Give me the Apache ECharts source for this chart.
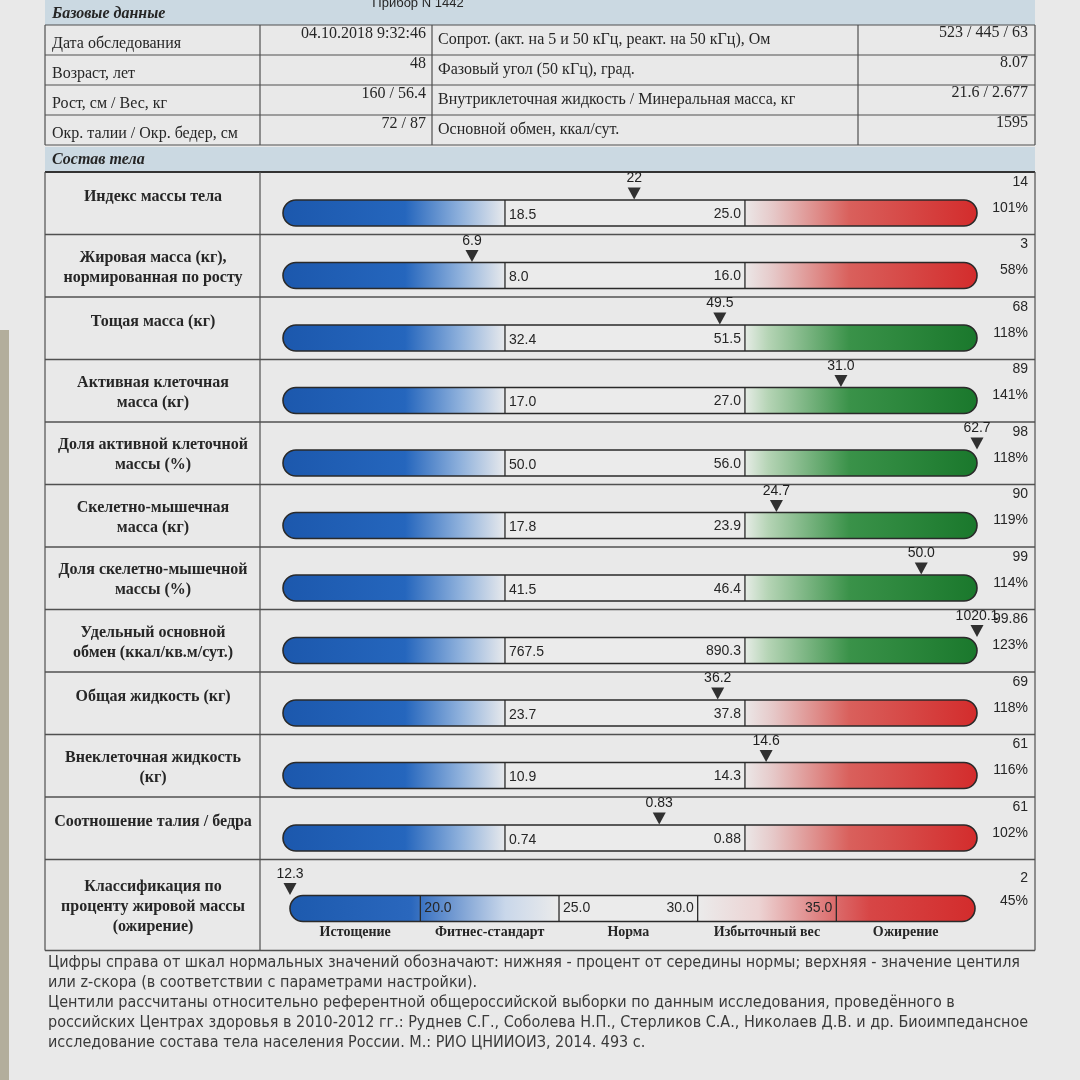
<!DOCTYPE html>
<html><head><meta charset="utf-8">
<script src="https://cdn.jsdelivr.net/npm/echarts@6.0.0/dist/echarts.min.js"></script>
<style>html,body{margin:0;padding:0;background:#e9e9e9}#c{width:1080px;height:1080px}</style>
</head><body><div id="c"></div><script>
// ---------- DATA ----------
const deviceText = 'Прибор N 1442';
const sectionBase = 'Базовые данные';
const sectionComp = 'Состав тела';
const baseLabelsLeft = ['Дата обследования', 'Возраст, лет', 'Рост, см / Вес, кг', 'Окр. талии / Окр. бедер, см'];
const baseValuesLeft = ['04.10.2018 9:32:46', '48', '160 / 56.4', '72 / 87'];
const baseLabelsRight = ['Сопрот. (акт. на 5 и 50 кГц, реакт. на 50 кГц), Ом', 'Фазовый угол (50 кГц), град.', 'Внутриклеточная жидкость / Минеральная масса, кг', 'Основной обмен, ккал/сут.'];
const baseValuesRight = ['523 / 445 / 63', '8.07', '21.6 / 2.677', '1595'];

const indicators = [
  'Индекс массы тела',
  'Жировая масса (кг),\nнормированная по росту',
  'Тощая масса (кг)',
  'Активная клеточная\nмасса (кг)',
  'Доля активной клеточной\nмассы (%)',
  'Скелетно-мышечная\nмасса (кг)',
  'Доля скелетно-мышечной\nмассы (%)',
  'Удельный основной\nобмен (ккал/кв.м/сут.)',
  'Общая жидкость (кг)',
  'Внеклеточная жидкость\n(кг)',
  'Соотношение талия / бедра',
  'Классификация по\nпроценту жировой массы\n(ожирение)'
];
const normLow  = [18.5, 8.0, 32.4, 17.0, 50.0, 17.8, 41.5, 767.5, 23.7, 10.9, 0.74];
const normHigh = [25.0, 16.0, 51.5, 27.0, 56.0, 23.9, 46.4, 890.3, 37.8, 14.3, 0.88];
const normDecimals = [1, 1, 1, 1, 1, 1, 1, 1, 1, 1, 2];
const measured = [22, 6.9, 49.5, 31.0, 62.7, 24.7, 50.0, 1020.1, 36.2, 14.6, 0.83, 12.3];
const measuredDecimals = [0, 1, 1, 1, 1, 1, 1, 1, 1, 1, 2, 1];
const centile = ['14', '3', '68', '89', '98', '90', '99', '99.86', '69', '61', '61', '2'];
const pctOfNorm = [101, 58, 118, 141, 118, 119, 114, 123, 118, 116, 102, 45];
const excessKind = ['red', 'red', 'green', 'green', 'green', 'green', 'green', 'green', 'red', 'red', 'red'];
const fatBounds = [20.0, 25.0, 30.0, 35.0];
const fatClasses = ['Истощение', 'Фитнес-стандарт', 'Норма', 'Избыточный вес', 'Ожирение'];
const footnote = [
  'Цифры справа от шкал нормальных значений обозначают: нижняя - процент от середины нормы; верхняя - значение центиля',
  'или z-скора (в соответствии с параметрами настройки).',
  'Центили рассчитаны относительно референтной общероссийской выборки по данным исследования, проведённого в',
  'российских Центрах здоровья в 2010-2012 гг.: Руднев С.Г., Соболева Н.П., Стерликов С.А., Николаев Д.В. и др. Биоимпедансное',
  'исследование состава тела населения России. М.: РИО ЦНИИОИЗ, 2014. 493 с.'
];

// ---------- STYLE / LAYOUT ----------
const SERIF = "'Liberation Serif','Times New Roman',serif";
const SANS = "'Liberation Sans',Arial,sans-serif";
const NARROW = "'Liberation Sans Narrow','DejaVu Sans Condensed',sans-serif";
const INK = '#262626';
const LINE = '#505050';
const BAND = '#cbd9e2';
const L = 45, R = 1035, C1 = 260;
const ROW0 = 172, RH = 62.5, LAST_H = 91;
const rowTop = i => ROW0 + i * RH;

const gradH = stops => new echarts.graphic.LinearGradient(0, 0, 1, 0, stops.map(s => ({offset: s[0], color: s[1]})));
const BLUE = [[0, '#1c58ad'], [0.55, '#2566bd'], [0.8, '#8fb1dc'], [1, '#e7e9ec']];
const RED = [[0, '#ebe7e7'], [0.12, '#e6c9c9'], [0.45, '#d9605c'], [1, '#d32c2c']];
const GREEN = [[0, '#e6ece6'], [0.1, '#b5d4b5'], [0.45, '#3a9249'], [1, '#1a782c']];
const BLUE_LAST = [[0, '#1d5aae'], [0.45, '#2a67bd'], [0.8, '#c9d7ea'], [1, '#ebebeb']];
const RED_LAST = [[0, '#ebebeb'], [0.22, '#ecd3d3'], [0.5, '#db6a6a'], [0.62, '#d74646'], [1, '#d32c2c']];

function T(x, y, text, font, align, extra) {
  return {type: 'text', silent: true, style: Object.assign({
    x, y, text, font, fill: INK, align: align || 'left', verticalAlign: 'middle',
    textAlign: align || 'left', textVerticalAlign: 'middle'
  }, extra || {})};
}
function Ln(x1, y1, x2, y2, w, c) {
  return {type: 'line', silent: true, shape: {x1, y1, x2, y2}, style: {stroke: c || LINE, lineWidth: w || 1}};
}

const graphics = [];
graphics.push({type: 'rect', silent: true, shape: {x: 0, y: 330, width: 9, height: 750}, style: {fill: '#b3ae9c'}});
// base data table
graphics.push({type: 'rect', silent: true, shape: {x: L, y: 0, width: R - L, height: 25}, style: {fill: BAND}});
graphics.push(T(52, 14, sectionBase, 'italic bold 16px ' + SERIF));
graphics.push(T(418, 3, deviceText, '13px ' + SANS, 'center'));
for (let k = 0; k < 5; k++) graphics.push(Ln(L, 25 + 30 * k, R, 25 + 30 * k, 1.2));
[L, C1, 432, 858, R].forEach(x => graphics.push(Ln(x, 25, x, 145, 1.2)));
for (let k = 0; k < 4; k++) {
  const m = 40 + 30 * k;
  graphics.push(T(52, m + 4, baseLabelsLeft[k], '16px ' + SERIF));
  graphics.push(T(426, m - 6, baseValuesLeft[k], '16px ' + SERIF, 'right'));
  graphics.push(T(438, m, baseLabelsRight[k], '16px ' + SERIF));
  graphics.push(T(1028, m - 7, baseValuesRight[k], '16px ' + SERIF, 'right'));
}
// composition section
graphics.push({type: 'rect', silent: true, shape: {x: L, y: 147, width: R - L, height: 25}, style: {fill: BAND}});
graphics.push(T(52, 160, sectionComp, 'italic bold 16px ' + SERIF));
graphics.push(Ln(L, 172, R, 172, 2.2, '#333'));
const tableBottom = rowTop(11) + LAST_H;
[L, C1, R].forEach(x => graphics.push(Ln(x, 172, x, tableBottom, 1.2)));
for (let i = 1; i <= 11; i++) graphics.push(Ln(L, rowTop(i), R, rowTop(i), 1.3));
graphics.push(Ln(L, tableBottom, R, tableBottom, 1.3));
indicators.forEach((lab, i) => {
  const h = i === 11 ? LAST_H : RH;
  const n = lab.split('\n').length;
  const cy = rowTop(i) + h / 2 + (n === 1 ? -6 : 2);
  graphics.push(T(153, cy, lab, 'bold 16px ' + SERIF, 'center', {lineHeight: 20}));
});
footnote.forEach((s, k) => graphics.push(T(48, [963, 983, 1003, 1023, 1043][k], s, '16px ' + NARROW, 'left', {fill: '#3a3a3a'})));

// ---------- GRIDS / SERIES ----------
const grids = [], xAxes = [], yAxes = [], series = [];
const txt = (x, y, s, align) => ({type: 'text', style: {x, y, text: s, font: '14px ' + SANS, fill: INK, align, verticalAlign: 'middle', textAlign: align, textVerticalAlign: 'middle'}});

indicators.forEach((lab, i) => {
  const last = i === 11;
  const top = rowTop(i);
  const bTop = last ? top + 36 : top + 28;
  const bH = 26;
  let min, max;
  if (!last) {
    const d = normHigh[i] - normLow[i];
    min = normLow[i] - 0.925 * d;
    max = normHigh[i] + 0.967 * d;
  } else {
    const d = fatBounds[1] - fatBounds[0];
    min = fatBounds[0] - 0.94 * d;
    max = fatBounds[3] + 1.0 * d;
  }
  grids.push({left: last ? 290 : 283, right: last ? 105 : 103, top: bTop, height: bH});
  xAxes.push({type: 'value', gridIndex: i, min, max, show: false});
  yAxes.push({type: 'value', gridIndex: i, min: 0, max: 1, show: false});

  if (!last) {
    series.push({
      type: 'custom', xAxisIndex: i, yAxisIndex: i, silent: true, clip: false,
      data: [[normLow[i], normHigh[i]]],
      renderItem: (params, api) => {
        const cs = params.coordSys;
        const x0 = cs.x, x1 = cs.x + cs.width, y0 = cs.y, h = cs.height, r = h / 2;
        const xl = api.coord([api.value(0), 0])[0];
        const xh = api.coord([api.value(1), 0])[0];
        return {type: 'group', children: [
          {type: 'rect', shape: {x: x0, y: y0, width: xl - x0, height: h, r: [r, 0, 0, r]}, style: {fill: gradH(BLUE)}},
          {type: 'rect', shape: {x: xl, y: y0, width: xh - xl, height: h}, style: {fill: '#ebebeb'}},
          {type: 'rect', shape: {x: xh, y: y0, width: x1 - xh, height: h, r: [0, r, r, 0]}, style: {fill: gradH(excessKind[i] === 'red' ? RED : GREEN)}},
          {type: 'rect', shape: {x: x0, y: y0, width: x1 - x0, height: h, r: r}, style: {fill: 'none', stroke: '#2a2a2a', lineWidth: 1.6}},
          {type: 'line', shape: {x1: xl, y1: y0, x2: xl, y2: y0 + h}, style: {stroke: '#2a2a2a', lineWidth: 1.3}},
          {type: 'line', shape: {x1: xh, y1: y0, x2: xh, y2: y0 + h}, style: {stroke: '#2a2a2a', lineWidth: 1.3}},
          txt(xl + 4, y0 + h / 2 + 2, normLow[i].toFixed(normDecimals[i]), 'left'),
          txt(xh - 4, y0 + h / 2 + 1, normHigh[i].toFixed(normDecimals[i]), 'right'),
          txt(1028, y0 - 18, centile[i], 'right'),
          txt(1028, y0 + 8, pctOfNorm[i] + '%', 'right')
        ]};
      }
    });
  } else {
    series.push({
      type: 'custom', xAxisIndex: i, yAxisIndex: i, silent: true, clip: false,
      data: [fatBounds],
      renderItem: (params, api) => {
        const cs = params.coordSys;
        const x0 = cs.x, x1 = cs.x + cs.width, y0 = cs.y, h = cs.height, r = h / 2;
        const b = [0, 1, 2, 3].map(k => api.coord([api.value(k), 0])[0]);
        const edges = [x0].concat(b, [x1]);
        const aligns = ['left', 'left', 'right', 'right'];
        const ch = [
          {type: 'rect', shape: {x: x0, y: y0, width: b[1] - x0, height: h, r: [r, 0, 0, r]}, style: {fill: gradH(BLUE_LAST)}},
          {type: 'rect', shape: {x: b[1], y: y0, width: b[2] - b[1], height: h}, style: {fill: '#ebebeb'}},
          {type: 'rect', shape: {x: b[2], y: y0, width: x1 - b[2], height: h, r: [0, r, r, 0]}, style: {fill: gradH(RED_LAST)}},
          {type: 'rect', shape: {x: x0, y: y0, width: x1 - x0, height: h, r: r}, style: {fill: 'none', stroke: '#2a2a2a', lineWidth: 1.6}}
        ];
        b.forEach((x, k) => {
          ch.push({type: 'line', shape: {x1: x, y1: y0, x2: x, y2: y0 + h}, style: {stroke: '#2a2a2a', lineWidth: 1.3}});
          ch.push(txt(aligns[k] === 'left' ? x + 4 : x - 4, y0 + h / 2, fatBounds[k].toFixed(1), aligns[k]));
        });
        fatClasses.forEach((c, k) => {
          ch.push({type: 'text', style: {x: (edges[k] + edges[k + 1]) / 2, y: y0 + h + 11, text: c, font: 'bold 14px ' + SERIF, fill: INK, align: 'center', verticalAlign: 'middle', textAlign: 'center', textVerticalAlign: 'middle'}});
        });
        ch.push(txt(1028, y0 - 17, centile[i], 'right'));
        ch.push(txt(1028, y0 + 6, pctOfNorm[i] + '%', 'right'));
        return {type: 'group', children: ch};
      }
    });
  }
  const v = Math.min(Math.max(measured[i], min), max);
  series.push({
    type: 'scatter', xAxisIndex: i, yAxisIndex: i, silent: true, clip: false,
    data: [[v, 1]],
    symbol: 'triangle', symbolRotate: 180, symbolSize: [13, 12], symbolOffset: [0, -6.5],
    itemStyle: {color: '#303030', opacity: 1},
    label: {show: true, position: 'top', distance: 2, formatter: () => measured[i].toFixed(measuredDecimals[i]),
      fontFamily: SANS, fontSize: 14, color: '#1e1e1e', opacity: 1, textBorderWidth: 0}
  });
});

const chart = echarts.init(document.getElementById('c'), null, {renderer: 'canvas', width: 1080, height: 1080});
chart.setOption({
  backgroundColor: '#e9e9e9',
  animation: false,
  grid: grids, xAxis: xAxes, yAxis: yAxes, series,
  graphic: {elements: graphics}
});
</script></body></html>
